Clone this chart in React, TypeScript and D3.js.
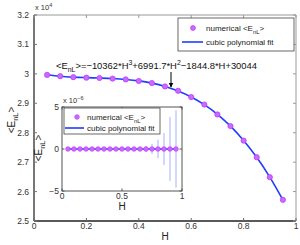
import React from "react";
import * as d3 from "d3";

// H values of the numerical samples
const hValues = [0.05, 0.1, 0.15, 0.2, 0.25, 0.3, 0.35, 0.4, 0.45, 0.5, 0.55, 0.6, 0.65, 0.7, 0.75, 0.8, 0.85, 0.9, 0.95];
// numerical <E_nL>
const numericalE = [29965, 29922, 29888, 29870, 29860, 29838, 29812, 29758, 29688, 29572, 29425, 29212, 28958, 28620, 28225, 27732, 27168, 26490, 25720];
// cubic fit line, sampled at the same H values
const fitE = [29968, 29919, 29890, 29872, 29858, 29840, 29810, 29762, 29685, 29574, 29420, 29216, 28953, 28624, 28222, 27737, 27164, 26493, 25717];
// inset: residuals (x 1e-6) and their error bar half widths
const insetMean = [0, 0, 0, 0, 0, 0, 0, 0, 0, 0, 0, 0, 0, 0, 0, 0, 0, 0, 0];
const insetErr = [0.02, 0.02, 0.03, 0.03, 0.04, 0.05, 0.05, 0.06, 0.07, 0.08, 0.1, 0.12, 0.2, 0.35, 0.6, 1.1, 1.9, 3.8, 4.6];

const xTicks = [0, 0.2, 0.4, 0.6, 0.8, 1];
const yTicks = [25000, 26000, 27000, 28000, 29000, 30000, 31000, 32000];
const insetXTicks = [0, 0.5, 1];
const insetYTicks = [-5, 0, 5];

const FONT = "Liberation Sans, Arial, sans-serif";
const BLUE = "#1f3cff";
const MARK_FILL = "#c070ff";
const MARK_STROKE = "#cc33ff";

export default function App() {
  const x = d3.scaleLinear().domain([0, 1]).range([34, 296]);
  const y = d3.scaleLinear().domain([25000, 32000]).range([221, 15]);
  const ix = d3.scaleLinear().domain([0, 1]).range([62, 182]);
  const iy = d3.scaleLinear().domain([-5, 5]).range([191, 107]);

  const fitLine = d3
    .line<number>()
    .x((_, i) => x(hValues[i]))
    .y((d) => y(d))
    .curve(d3.curveCatmullRom);
  const insetLine = d3
    .line<number>()
    .x((_, i) => ix(hValues[i]))
    .y((d) => iy(d));

  const [x0, x1] = x.range();
  const [yb, yt] = y.range();
  const [ix0, ix1] = ix.range();
  const [iyb, iyt] = iy.range();

  return (
    <svg
      width={300}
      height={245}
      style={{ position: "absolute", left: 0, top: 0, background: "#fff" }}
      fontFamily={FONT}
    >
      <defs>
        <marker id="arrowHead" viewBox="0 0 10 10" refX="9" refY="5" markerWidth="5" markerHeight="6" orient="auto">
          <path d="M0,0 L10,5 L0,10 z" fill="#000" />
        </marker>
      </defs>

      {/* main axes box */}
      <line x1={x0} x2={x1} y1={yt} y2={yt} stroke="#999" strokeWidth={1} />
      <line x1={x1} x2={x1} y1={yt} y2={yb} stroke="#999" strokeWidth={1} />
      <line x1={x0} x2={x0} y1={yt} y2={yb} stroke="#777" strokeWidth={2} />
      <line x1={x0} x2={x1} y1={yb} y2={yb} stroke="#222" strokeWidth={1.5} />

      {xTicks.map((t) => (
        <g key={"xt" + t}>
          <line x1={x(t)} x2={x(t)} y1={yb} y2={yb - 3} stroke="#666" />
          <line x1={x(t)} x2={x(t)} y1={yt} y2={yt + 3} stroke="#999" />
          <text x={x(t)} y={yb + 8} fontSize={8.5} textAnchor="middle" fill="#333">
            {t}
          </text>
        </g>
      ))}
      {yTicks.map((t) => (
        <g key={"yt" + t}>
          <line x1={x0} x2={x0 + 3} y1={y(t)} y2={y(t)} stroke="#777" />
          <line x1={x1} x2={x1 - 3} y1={y(t)} y2={y(t)} stroke="#999" />
          <text x={x0 - 5} y={y(t) + 3} fontSize={8.5} textAnchor="end" fill="#333">
            {d3.format(".1f")(t / 10000).replace(/\.0$/, "")}
          </text>
        </g>
      ))}
      <text x={35} y={10} fontSize={7.5} fill="#333">
        x 10<tspan dy={-3} fontSize={5.5}>4</tspan>
      </text>
      <text x={165} y={240} fontSize={10} textAnchor="middle" fill="#222">
        H
      </text>
      <text transform="translate(15,120) rotate(-90)" fontSize={10} textAnchor="middle" fill="#222">
        {"<E"}
        <tspan dy={3} fontSize={7.5}>nL</tspan>
        <tspan dy={-3}>{">"}</tspan>
      </text>

      {/* fit line and numerical points */}
      <path d={fitLine(fitE) ?? ""} fill="none" stroke={BLUE} strokeWidth={1.6} />
      {numericalE.map((v, i) => (
        <circle key={"p" + i} cx={x(hValues[i])} cy={y(v)} r={2.6} fill={MARK_FILL} stroke={MARK_STROKE} strokeWidth={0.8} />
      ))}

      {/* equation and arrow */}
      <text x={56} y={69} fontSize={9.5} fill="#111" textLength={201} lengthAdjust="spacingAndGlyphs">
        {"<E"}
        <tspan dy={3} fontSize={7}>nL</tspan>
        <tspan dy={-3}>{">=\u221210362*H"}</tspan>
        <tspan dy={-4} fontSize={7}>3</tspan>
        <tspan dy={4}>{"+6991.7*H"}</tspan>
        <tspan dy={-4} fontSize={7}>2</tspan>
        <tspan dy={4}>{"\u22121844.8*H+30044"}</tspan>
      </text>
      <line x1={171} x2={171} y1={72} y2={87} stroke="#000" strokeWidth={1} markerEnd="url(#arrowHead)" />

      {/* main legend */}
      <rect x={178} y={18} width={116} height={33} fill="#fff" stroke="#444" strokeWidth={0.8} />
      <circle cx={193} cy={28} r={2.4} fill={MARK_FILL} stroke={MARK_STROKE} strokeWidth={0.8} />
      <text x={206} y={31} fontSize={8} fill="#222">
        {"numerical <E"}
        <tspan dy={2.5} fontSize={6}>nL</tspan>
        <tspan dy={-2.5}>{">"}</tspan>
      </text>
      <line x1={182} x2={203} y1={42} y2={42} stroke={BLUE} strokeWidth={1.6} />
      <text x={206} y={45} fontSize={8} fill="#222">
        cubic polynomial fit
      </text>

      {/* inset */}
      <rect x={ix0} y={iyt} width={ix1 - ix0} height={iyb - iyt} fill="#fff" stroke="#555" strokeWidth={1} />
      {insetXTicks.map((t) => (
        <g key={"ixt" + t}>
          <line x1={ix(t)} x2={ix(t)} y1={iyb} y2={iyb - 2.5} stroke="#555" />
          <line x1={ix(t)} x2={ix(t)} y1={iyt} y2={iyt + 2.5} stroke="#555" />
          <text x={ix(t)} y={iyb + 8} fontSize={8.5} textAnchor="middle" fill="#333">
            {t}
          </text>
        </g>
      ))}
      {insetYTicks.map((t) => (
        <g key={"iyt" + t}>
          <line x1={ix0} x2={ix0 + 2.5} y1={iy(t)} y2={iy(t)} stroke="#555" />
          <line x1={ix1} x2={ix1 - 2.5} y1={iy(t)} y2={iy(t)} stroke="#555" />
          <text x={ix0 - 3} y={iy(t) + 3} fontSize={8.5} textAnchor="end" fill="#333">
            {t < 0 ? "\u2212" + Math.abs(t) : t}
          </text>
        </g>
      ))}
      <text x={63} y={103} fontSize={7.5} fill="#333">
        x 10<tspan dy={-3} fontSize={5.5}>{"\u22126"}</tspan>
      </text>
      <text x={122} y={210} fontSize={10} textAnchor="middle" fill="#222">
        H
      </text>
      <text transform="translate(42,148) rotate(-90)" fontSize={10} textAnchor="middle" fill="#222">
        {"<E"}
        <tspan dy={3} fontSize={7.5}>nL</tspan>
        <tspan dy={-3}>{">"}</tspan>
      </text>

      {insetErr.map((e, i) => (
        <line
          key={"eb" + i}
          x1={ix(hValues[i])}
          x2={ix(hValues[i])}
          y1={iy(insetMean[i] - e)}
          y2={iy(insetMean[i] + e)}
          stroke="#9aa6ff"
          strokeWidth={0.9}
        />
      ))}
      <path d={insetLine(insetMean) ?? ""} fill="none" stroke={BLUE} strokeWidth={1.6} />
      {insetMean.map((v, i) => (
        <circle key={"ip" + i} cx={ix(hValues[i])} cy={iy(v)} r={2.3} fill={MARK_FILL} stroke={MARK_STROKE} strokeWidth={0.7} />
      ))}

      {/* inset legend */}
      <rect x={64} y={108} width={96} height={26} fill="#fff" stroke="#444" strokeWidth={0.8} />
      <circle cx={77} cy={117} r={2.3} fill={MARK_FILL} stroke={MARK_STROKE} strokeWidth={0.7} />
      <text x={87} y={120} fontSize={8} fill="#222">
        {"numerical <E"}
        <tspan dy={2.5} fontSize={6}>nL</tspan>
        <tspan dy={-2.5}>{">"}</tspan>
      </text>
      <line x1={65} x2={84} y1={128} y2={128} stroke={BLUE} strokeWidth={1.6} />
      <text x={87} y={131} fontSize={8} fill="#222">
        cubic polynomial fit
      </text>
    </svg>
  );
}
